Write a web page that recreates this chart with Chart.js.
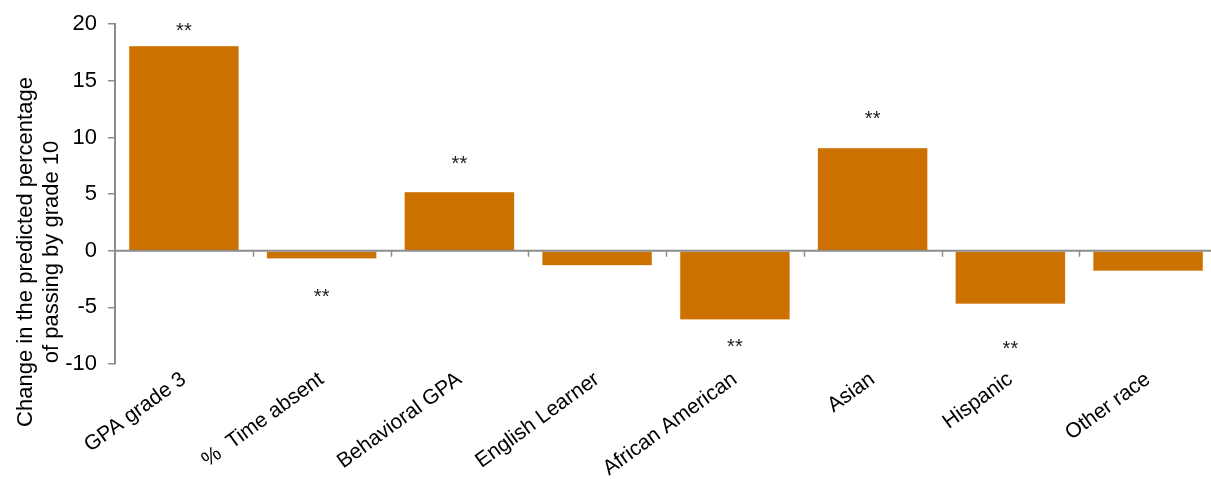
<!DOCTYPE html>
<html>
<head>
<meta charset="utf-8">
<script src="https://cdn.jsdelivr.net/npm/chart.js@4.4.1/dist/chart.umd.min.js"></script>
<style>
    html, body { margin: 0; padding: 0; background: #fff; overflow: hidden; }
    #wrap { width: 1217px; height: 479px; position: relative; }
</style>
</head>
<body>
<div id="wrap"><canvas id="chart"></canvas></div>
<script>
const categories = ["GPA grade 3", "%  Time absent", "Behavioral GPA", "English Learner",
    "African American", "Asian", "Hispanic", "Other race"];
const changeValues = [18.1, -0.7, 5.2, -1.3, -6.1, 9.1, -4.7, -1.8];
// where the significance marks sit, in axis units (null = not significant)
const starPositions = [19.8, -3.6, 8.1, null, -8.1, 12.1, -8.2, null];
const starLabel = "**";
const yTicks = [20, 15, 10, 5, 0, -5, -10];
const yTitle = ["Change in the predicted percentage", "of passing by grade 10"];

const FONT = "'Liberation Sans', Arial, sans-serif";
const AXIS_GREY = "#8c8c8c";

// zero line, category tick marks on it, the ** marks and the y title
const overlayPlugin = {
    id: "overlay",
    afterDatasetsDraw(chart) {
        const ctx = chart.ctx;
        const x = chart.scales.x;
        const y = chart.scales.y;
        const y0 = y.getPixelForValue(0);
        ctx.save();
        ctx.strokeStyle = AXIS_GREY;
        ctx.lineWidth = 2;
        ctx.beginPath();
        ctx.moveTo(chart.chartArea.left, y0);
        ctx.lineTo(chart.chartArea.right, y0);
        ctx.stroke();
        const step = (x.right - x.left) / categories.length;
        ctx.lineWidth = 1.5;
        for (let i = 1; i < categories.length; i++) {
            const px = Math.round(x.left + step * i) + 0.5;
            ctx.beginPath();
            ctx.moveTo(px, y0);
            ctx.lineTo(px, y0 + 6);
            ctx.stroke();
        }
        ctx.fillStyle = "#222";
        ctx.font = "20px " + FONT;
        ctx.textAlign = "center";
        ctx.textBaseline = "alphabetic";
        starPositions.forEach((v, i) => {
            if (v === null) return;
            ctx.fillText(starLabel, x.getPixelForValue(i), y.getPixelForValue(v) + 11);
        });

        // axis title, centred a bit lower than the plot like the original
        ctx.fillStyle = "#000";
        ctx.font = "22px " + FONT;
        ctx.textBaseline = "middle";
        ctx.translate(0, 252);
        ctx.rotate(-Math.PI / 2);
        ctx.fillText(yTitle[0], 0, 26);
        ctx.fillText(yTitle[1], 0, 52);
        ctx.restore();
    },
};

new Chart(document.getElementById("chart"), {
    type: "bar",
    data: {
        labels: categories,
        datasets: [{
            data: changeValues,
            backgroundColor: "#cc7000",
            borderColor: "#e8a860",
            borderWidth: 0.5,
            barPercentage: 0.8,
            categoryPercentage: 1.0,
        }],
    },
    options: {
        responsive: true,
        maintainAspectRatio: false,
        animation: false,
        layout: { padding: { top: 22, right: 0, left: 0, bottom: 0 } },
        plugins: { legend: { display: false }, tooltip: { enabled: false } },
        scales: {
            x: {
                grid: { display: false, drawTicks: false },
                border: { display: false },
                ticks: {
                    color: "#000",
                    font: { family: FONT, size: 21 },
                    minRotation: 36,
                    maxRotation: 36,
                    padding: 3,
                    autoSkip: false,
                },
                afterFit(scale) { scale.height = 115; },
            },
            y: {
                min: -10,
                max: 20,
                afterBuildTicks(scale) { scale.ticks = yTicks.map(v => ({ value: v })); },
                grid: {
                    display: true,
                    drawOnChartArea: false,
                    drawTicks: true,
                    tickLength: 7,
                    color: AXIS_GREY,
                    lineWidth: 1.5,
                },
                border: { display: true, color: AXIS_GREY, width: 2 },
                ticks: {
                    color: "#000",
                    font: { family: FONT, size: 22 },
                    padding: 11,
                },
                afterFit(scale) { scale.width = 115; },
            },
        },
    },
    plugins: [overlayPlugin],
});
</script>
</body>
</html>
